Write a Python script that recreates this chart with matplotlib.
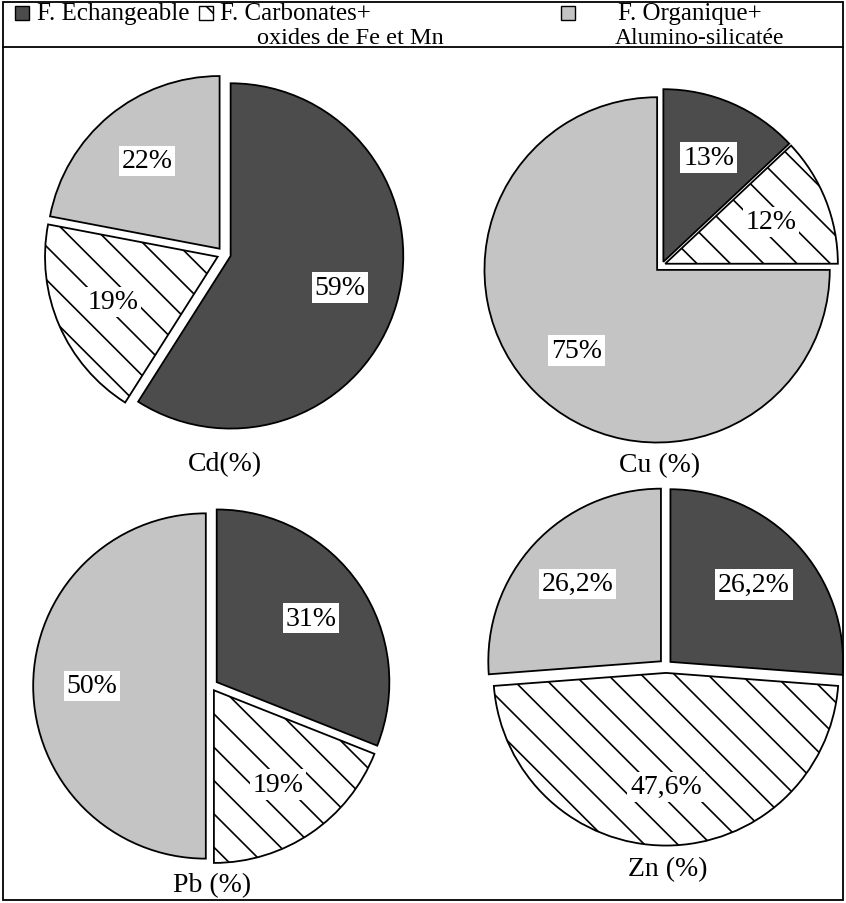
import matplotlib.pyplot as plt
from matplotlib.patches import Rectangle
from matplotlib.lines import Line2D

plt.rcParams['font.family'] = ['Liberation Serif', 'DejaVu Serif']
plt.rcParams['hatch.linewidth'] = 1.2

fractions = ["F. Echangeable", "F. Carbonates+\noxides de Fe et Mn",
             "F. Organique+\nAlumino-silicatée"]
metals = ["Cd(%)", "Cu (%)", "Pb (%)", "Zn (%)"]
cd = [59, 19, 22]
cu = [13, 12, 75]
pb = [31, 19, 50]
zn = [26.2, 47.6, 26.2]

colors = ["#4c4c4c", "white", "#c4c4c4"]
hatches = [None, "\\", None]

W, H = 846, 904
fig = plt.figure(figsize=(W / 100, H / 100), dpi=100)

R = 166
pad = 1.3


def fmt(v):
    if float(v).is_integer():
        return "%d%%" % v
    return ("%.1f%%" % v).replace(".", ",")


def draw_pie(vals, cx, cy, title, tx, ty, explode):
    half = R * pad
    ax = fig.add_axes([(cx - half) / W, (H - cy - half) / H, 2 * half / W, 2 * half / H])
    ax.set_xlim(-pad, pad)
    ax.set_ylim(-pad, pad)
    ax.set_aspect("equal")
    ax.axis("off")
    wedges, _, autotexts = ax.pie(vals, colors=colors, startangle=90, counterclock=False,
                                  explode=explode, autopct="%1.1f", pctdistance=0.66,
                                  wedgeprops=dict(edgecolor="black", linewidth=1.3))
    for w, h in zip(wedges, hatches):
        if h:
            w.set_hatch(h)
    for t, v in zip(autotexts, vals):
        t.set_text(fmt(v))
        t.set_fontsize(20)
        t.set_bbox(dict(facecolor="white", edgecolor="none", pad=2))
    fig.text(tx / W, 1 - ty / H, title, fontsize=20, ha="center", va="center")


draw_pie(cd, 224, 255, metals[0], 225, 465, [0.04, 0.04, 0.04])
draw_pie(cu, 662, 266, metals[1], 660, 466, [0.02, 0.02, 0.04])
draw_pie(pb, 211, 687, metals[2], 212, 886, [0.04, 0.03, 0.03])
draw_pie(zn, 666, 667, metals[3], 668, 870, [0.035, 0.04, 0.04])

# outer frame and legend separator
fig.add_artist(Rectangle((3 / W, 3 / H), (W - 6) / W, (H - 6) / H, transform=fig.transFigure,
                         fill=False, edgecolor="black", linewidth=1.3))
fig.add_artist(Line2D([3 / W, (W - 3) / W], [1 - 48 / H, 1 - 48 / H], transform=fig.transFigure,
                      color="black", linewidth=1.3))

# legend
box_x = [15, 199, 561]
text_x = [37, 220, 618]
for bx, c, h in zip(box_x, colors, hatches):
    fig.add_artist(Rectangle((bx / W, 1 - 21 / H), 14 / W, 14 / H, transform=fig.transFigure,
                             facecolor=c, edgecolor="black", linewidth=1, hatch=h))
fig.text(text_x[0] / W, 1 - 14 / H, fractions[0], fontsize=18, va="center")
l1, l2 = fractions[1].split("\n")
fig.text(text_x[1] / W, 1 - 14 / H, l1, fontsize=18, va="center")
fig.text(257 / W, 1 - 38 / H, l2, fontsize=17.5, va="center")
l1, l2 = fractions[2].split("\n")
fig.text(text_x[2] / W, 1 - 14 / H, l1, fontsize=18, va="center")
fig.text(615 / W, 1 - 38 / H, l2, fontsize=17, va="center")

fig.savefig("out.png", dpi=100)
